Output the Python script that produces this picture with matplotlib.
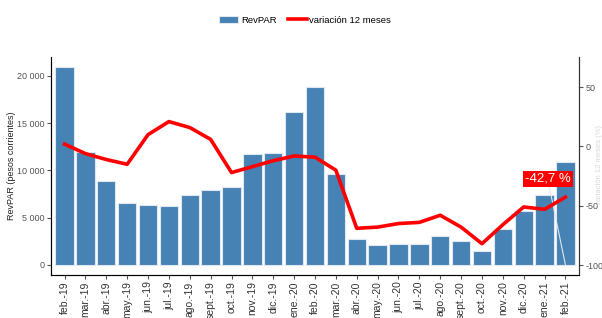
import numpy as np
import matplotlib
matplotlib.use('Agg')
import matplotlib.pyplot as plt

# Dades
meses = ['feb.-19', 'mar.-19', 'abr.-19', 'may.-19', 'jun.-19', 'jul.-19', 'ago.-19',
         'sept.-19', 'oct.-19', 'nov.-19', 'dic.-19', 'ene.-20', 'feb.-20', 'mar.-20',
         'abr.-20', 'may.-20', 'jun.-20', 'jul.-20', 'ago.-20', 'sept.-20', 'oct.-20',
         'nov.-20', 'dic.-20', 'ene.-21', 'feb.-21']
revpar = [20900, 11900, 8900, 6550, 6350, 6250, 7400, 7900, 8250, 11750, 11850, 16150,
          18800, 9600, 2750, 2100, 2200, 2200, 3050, 2500, 1450, 3850, 5700, 7400, 10900]
variacion = [2, -6, -11, -15, 10, 21, 16, 6, -22, -17, -12, -8, -9, -20, -69, -68, -65,
             -64, -58, -68, -82, -66, -51, -53, -42.7]
etiqueta = '-42,7 %'

plt.rcParams['font.family'] = ['Liberation Sans', 'DejaVu Sans']
plt.rcParams['axes.unicode_minus'] = False
gris = '#555555'

fig = plt.figure(figsize=(6.02, 3.18), dpi=100)
ax = fig.add_axes([0.0847, 0.1352, 0.8771, 0.6856])
x = np.arange(len(meses))
barres = ax.bar(x, revpar, width=0.88, color='#4682B4', edgecolor='#dfe8f0', linewidth=0.8,
                label='RevPAR')
ax.set_xlim(-0.65, len(meses) - 1 + 0.65)
ax.set_ylim(-1060, 22000)
ax.set_yticks([0, 5000, 10000, 15000, 20000])
ax.set_yticklabels(['0', '5 000', '10 000', '15 000', '20 000'])
ax.set_xticks(x)
ax.set_xticklabels(meses, rotation=90, fontsize=7.5, color='#333333')
ax.tick_params(axis='y', labelsize=6.5, colors=gris, length=3, pad=1.5)
ax.tick_params(axis='x', length=3, colors=gris, labelcolor='#333333', pad=1.5)
ax.set_ylabel('RevPAR (pesos corrientes)', fontsize=6.5, color='#222222', labelpad=1)
ax.spines['top'].set_visible(False)
for s in ['left', 'bottom', 'right']:
    ax.spines[s].set_color('#333333')

ax2 = ax.twinx()
linia, = ax2.plot(x, variacion, color='red', lw=2.6, label='variación 12 meses')
ax2.set_ylim(-108.4, 75.5)
ax2.set_yticks([-100, -50, 0, 50])
ax2.tick_params(axis='y', labelsize=6.5, colors=gris, length=3, pad=1.5)
ax2.spines['top'].set_visible(False)
ax2.spines['right'].set_color('#333333')

# Títol de l'eix dret, molt clar i arran de la vora
fig.text(0.9955, 0.48, 'variación 12 meses (%)', rotation=90, fontsize=5.5,
         color='#d8d8d8', ha='center', va='center')

# Etiqueta de l'últim valor amb línia guia
ax.annotate(etiqueta, xy=(x[-1], 0), xytext=(x[-1] - 0.85, 9100),
            fontsize=9.5, color='white', ha='center', va='center',
            bbox=dict(boxstyle='square,pad=0.15', fc='red', ec='none'),
            arrowprops=dict(arrowstyle='-', color='#dfe8f0', lw=0.8,
                            shrinkA=0, shrinkB=0))

fig.legend(handles=[barres, linia], loc='center', bbox_to_anchor=(0.507, 0.937), ncol=2,
           frameon=False, handlelength=2.0, columnspacing=1.2,
           handletextpad=0.3, prop={'family': 'Liberation Sans', 'size': 6.8})

fig.savefig('out.png', dpi=100)
